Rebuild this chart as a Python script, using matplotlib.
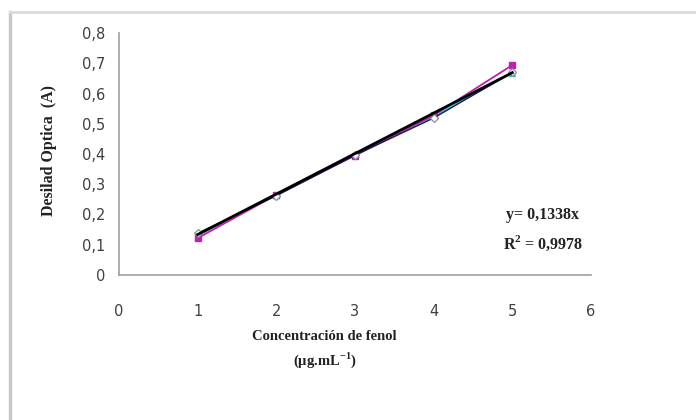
import matplotlib
matplotlib.use("Agg")
import matplotlib.pyplot as plt
from matplotlib.lines import Line2D
from matplotlib.ticker import FuncFormatter

plt.rcParams["mathtext.fontset"] = "custom"
plt.rcParams["mathtext.rm"] = "Liberation Serif"
plt.rcParams["mathtext.bf"] = "Liberation Serif:bold"

conc = [1, 2, 3, 4, 5]
abs_rep1 = [0.138, 0.262, 0.396, 0.519, 0.670]
abs_rep2 = [0.122, 0.265, 0.395, 0.528, 0.694]
abs_rep3 = [0.130, 0.266, 0.400, 0.524, 0.668]
slope = 0.1338
r2 = 0.9978
x_ticks = [0, 1, 2, 3, 4, 5, 6]
y_ticks = [0, 0.1, 0.2, 0.3, 0.4, 0.5, 0.6, 0.7, 0.8]

fig = plt.figure(figsize=(6.96, 4.20), dpi=100)
fig.patch.set_facecolor("white")

# outer frame (top and left edges visible)
fig.add_artist(Line2D([10/696, 10/696], [0, 1 - 12/420], transform=fig.transFigure,
                      color="#c8c8c8", lw=2.5))
fig.add_artist(Line2D([10/696, 1], [1 - 12/420, 1 - 12/420], transform=fig.transFigure,
                      color="#dcdcdc", lw=2.0))

ax = fig.add_axes([119/696, 1 - 275/420, (591 - 119)/696, (275 - 33)/420])
ax.set_xlim(0, 6)
ax.set_ylim(0, 0.8)

ax.plot(conc, abs_rep3, color="#30c8d0", lw=1.2, marker="^", ms=4,
        mfc="#30c8d0", mec="#30c8d0", zorder=3)
ax.plot(conc, abs_rep2, color="#c020b0", lw=1.3, marker="s", ms=4,
        mfc="#c020b0", mec="#c020b0", zorder=3)
ax.plot(conc, abs_rep1, color="#1a1a50", lw=1.0, marker="D", ms=4.5,
        mfc="white", mec="#8090a0", mew=0.9, zorder=4)
fit = [slope * c for c in conc]
ax.plot(conc, fit, color="black", lw=2.0, zorder=5)

for s in ["top", "right"]:
    ax.spines[s].set_visible(False)
for s in ["left", "bottom"]:
    ax.spines[s].set_color("#a0a0a0")
    ax.spines[s].set_linewidth(1.2)

ax.set_xticks(x_ticks)
ax.set_yticks(y_ticks)
ax.yaxis.set_major_formatter(FuncFormatter(lambda v, p: "0" if v == 0 else f"{v:.1f}".replace(".", ",")))
ax.tick_params(axis="both", length=0, labelsize=10.5, colors="#404040")
ax.tick_params(axis="x", pad=21)
ax.tick_params(axis="y", pad=10)
for lab in ax.get_xticklabels() + ax.get_yticklabels():
    lab.set_fontfamily("DejaVu Sans")

fig.text(49/696, 1 - 150/420, "Desilad Optica  (A)", rotation=90, ha="center", va="center",
         fontsize=11.5, fontweight="bold", family="Liberation Serif", color="#222222")
fig.text(324/696, 1 - 337/420, "Concentración de fenol", ha="center", va="center",
         fontsize=10.5, fontweight="bold", family="Liberation Serif", color="#222222")
fig.text(325/696, 1 - 360/420, "(µg.mL$^{\\mathbf{-1}}$)", ha="center", va="center",
         fontsize=10.5, fontweight="bold", family="Liberation Serif", color="#222222")

fig.text(543/696, 1 - 215/420, f"y= {slope:.4f}x".replace(".", ","), ha="center", va="center",
         fontsize=11.5, fontweight="bold", family="Liberation Serif", color="#222222")
fig.text(543/696, 1 - 243/420, f"R$^{{\\mathbf{{2}}}}$ = {r2:.4f}".replace(".", ","), ha="center", va="center",
         fontsize=11.5, fontweight="bold", family="Liberation Serif", color="#222222")

fig.savefig("out.png", dpi=100, facecolor="white")
